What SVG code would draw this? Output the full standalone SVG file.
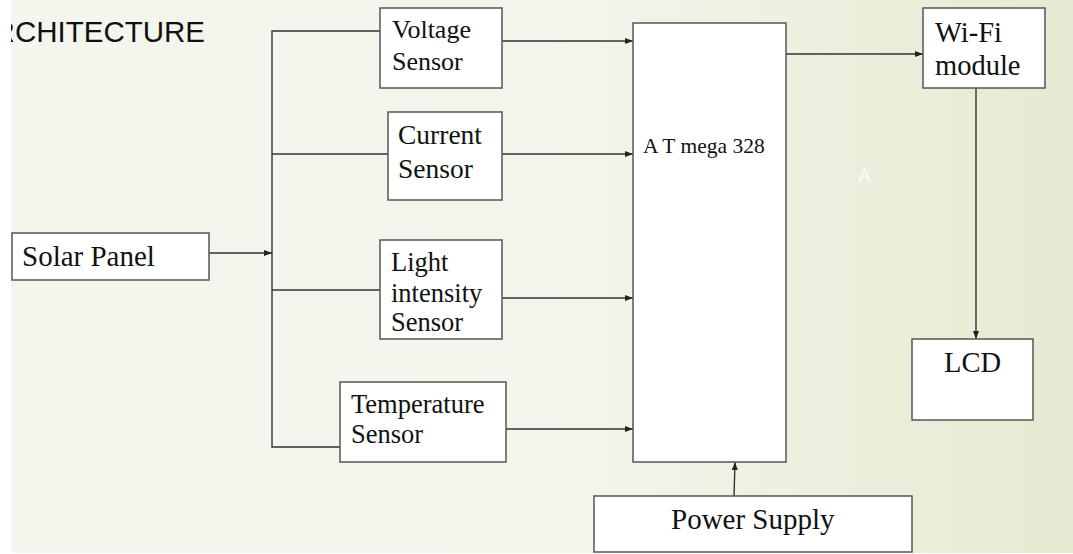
<svg xmlns="http://www.w3.org/2000/svg" width="1073" height="554" viewBox="0 0 1073 554">
<defs>
<linearGradient id="bg" x1="0" y1="0" x2="1" y2="0">
<stop offset="0" stop-color="#f4f6ee"/>
<stop offset="0.55" stop-color="#f2f5ea"/>
<stop offset="1" stop-color="#e4ebd2"/>
</linearGradient>
<marker id="ah" viewBox="0 0 8 6" refX="8" refY="3" markerWidth="8" markerHeight="6" markerUnits="userSpaceOnUse" orient="auto">
<path d="M0,0 L8,3 L0,6 Z" fill="#222"/>
</marker>
<style>
.box{fill:#ffffff;stroke:#555;stroke-width:1.5}
.t{font-family:"Liberation Serif","Times New Roman",serif;fill:#111}
.ln{fill:none;stroke:#333;stroke-width:1.4}
.arr{fill:none;stroke:#333;stroke-width:1.4;marker-end:url(#ah)}
</style>
</defs>
<rect x="0" y="0" width="1073" height="554" fill="url(#bg)"/>
<text x="205" y="42" text-anchor="end" font-family="Liberation Sans, Arial, sans-serif" font-size="29.5" fill="#111">RCHITECTURE</text>
<rect x="0" y="0" width="11" height="554" fill="#ffffff"/>
<rect x="0" y="553" width="1073" height="1" fill="#ffffff"/>
<text x="858" y="182" font-family="Liberation Sans, Arial, sans-serif" font-size="19" fill="#ffffff" fill-opacity="0.85">A</text>

<g id="connectors">
<path class="ln" d="M380,31 H272 V447 H340"/>
<path class="ln" d="M272,154 H388"/>
<path class="ln" d="M272,290 H380"/>
<path class="arr" d="M209,253 H272"/>
<path class="arr" d="M502,41 H633"/>
<path class="arr" d="M502,154 H633"/>
<path class="arr" d="M502,298 H633"/>
<path class="arr" d="M506,429 H633"/>
<path class="arr" d="M786,54 H923"/>
<path class="arr" d="M976,88 V339"/>
<path class="arr" d="M734,496 L735,462"/>
</g>

<g id="voltage-sensor">
<rect class="box" x="380" y="8" width="122" height="80"/>
<text class="t" font-size="26" x="392" y="38">Voltage</text>
<text class="t" font-size="26" x="392" y="70">Sensor</text>
</g>
<g id="current-sensor">
<rect class="box" x="388" y="112" width="114" height="88"/>
<text class="t" font-size="27.5" x="398" y="144">Current</text>
<text class="t" font-size="27.5" x="398" y="178">Sensor</text>
</g>
<g id="light-sensor">
<rect class="box" x="380" y="240" width="122" height="99"/>
<text class="t" font-size="26.5" x="391" y="271">Light</text>
<text class="t" font-size="26.5" x="391" y="302">intensity</text>
<text class="t" font-size="26.5" x="391" y="331">Sensor</text>
</g>
<g id="temperature-sensor">
<rect class="box" x="340" y="382" width="166" height="80"/>
<text class="t" font-size="26.5" x="351" y="413">Temperature</text>
<text class="t" font-size="26.5" x="351" y="443">Sensor</text>
</g>
<g id="solar-panel">
<rect class="box" x="12" y="233" width="197" height="47"/>
<text class="t" font-size="29" x="22" y="266">Solar Panel</text>
</g>
<g id="atmega">
<rect class="box" x="633" y="23" width="153" height="439"/>
<text class="t" font-size="21.5" x="643" y="153">A T mega 328</text>
</g>
<g id="wifi-module">
<rect class="box" x="923" y="8" width="122" height="80"/>
<text class="t" font-size="28.5" x="935" y="42">Wi-Fi</text>
<text class="t" font-size="28.5" x="935" y="75">module</text>
</g>
<g id="lcd">
<rect class="box" x="912" y="339" width="121" height="81"/>
<text class="t" font-size="28.5" x="944" y="372">LCD</text>
</g>
<g id="power-supply">
<rect class="box" x="594" y="496" width="318" height="56"/>
<text class="t" font-size="29" x="671" y="529">Power Supply</text>
</g>
</svg>
